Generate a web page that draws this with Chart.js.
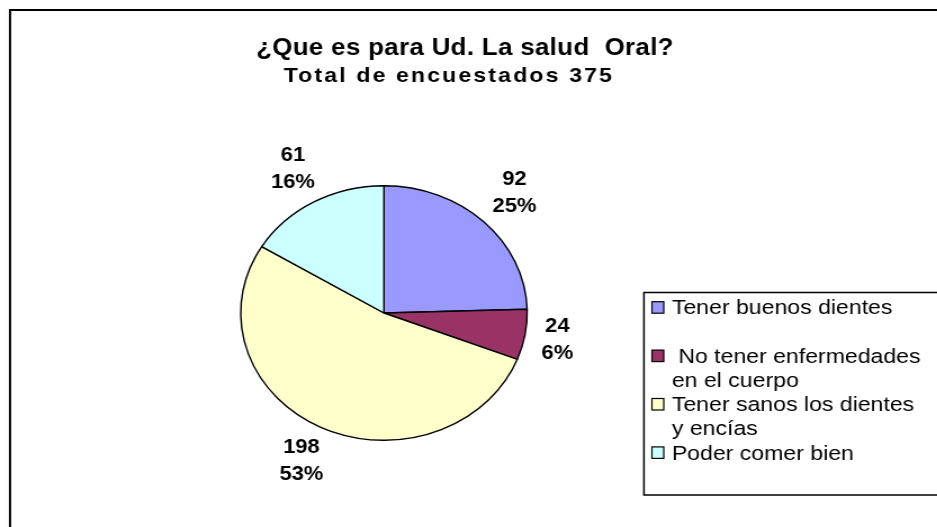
<!DOCTYPE html>
<html>
<head>
<meta charset="utf-8">
<script src="https://cdn.jsdelivr.net/npm/chart.js@4/dist/chart.umd.min.js"></script>
<style>
  html, body { margin: 0; padding: 0; background: #fff; overflow: hidden; }
  #wrap { position: absolute; left: 0; top: 0; width: 833px; height: 527px;
          transform: scaleX(1.125); transform-origin: 0 0; }
  canvas { display: block; }
</style>
</head>
<body>
<div id="wrap"><canvas id="c" width="833" height="527" style="width:833px;height:527px"></canvas></div>
<script>
// ---- data ----
const titleText = "¿Que es para Ud. La salud  Oral?";
const subtitleText = "Total de encuestados 375";
const categories = [
  ["Tener buenos dientes"],
  [" No tener enfermedades", "en el cuerpo"],
  ["Tener sanos los dientes", "y encías"],
  ["Poder comer bien"]
];
const counts = [92, 24, 198, 61];
const sliceColors = ["#9999FF", "#993366", "#FFFFCC", "#CCFFFF"];

const FONT = "'Liberation Sans', Arial, sans-serif";

const decorPlugin = {
  id: 'decor',
  beforeDraw(chart) {
    const ctx = chart.ctx;
    ctx.save();
    ctx.fillStyle = '#fff';
    ctx.fillRect(0, 0, chart.width, chart.height);
    // outer frame (left and top edges visible)
    ctx.strokeStyle = '#000';
    ctx.lineWidth = 2;
    ctx.beginPath();
    ctx.moveTo(8.9, chart.height + 2);
    ctx.lineTo(8.9, 10);
    ctx.lineTo(chart.width + 2, 10);
    ctx.stroke();
    // titles
    ctx.fillStyle = '#000';
    ctx.textAlign = 'center';
    ctx.textBaseline = 'alphabetic';
    ctx.font = "bold 23px " + FONT;
    ctx.letterSpacing = '0.3px';
    ctx.fillText(titleText, 413.3, 55);
    ctx.font = "bold 20.5px " + FONT;
    ctx.letterSpacing = '1.9px';
    ctx.fillText(subtitleText, 399, 82);
    ctx.letterSpacing = '0px';
    ctx.restore();
  },
  afterDatasetsDraw(chart) {
    const ctx = chart.ctx;
    const meta = chart.getDatasetMeta(0);
    const data = chart.data.datasets[0].data;
    const total = data.reduce((a, b) => a + b, 0);
    ctx.save();
    ctx.font = "bold 19.5px " + FONT;
    ctx.fillStyle = '#000';
    ctx.textAlign = 'center';
    ctx.textBaseline = 'middle';
    meta.data.forEach((arc, i) => {
      const p = arc.getProps(['x', 'y', 'startAngle', 'endAngle', 'outerRadius'], true);
      const mid = (p.startAngle + p.endAngle) / 2;
      const lines = [String(data[i]), Math.round(data[i] / total * 100) + '%'];
      const hw = Math.max(...lines.map(t => ctx.measureText(t).width)) / 2;
      const hh = 19;
      const c = Math.cos(mid), s = Math.sin(mid);
      const d = p.outerRadius + 12 + Math.abs(c) * hw + Math.abs(s) * hh;
      const cx = p.x + c * d, cy = p.y + s * d;
      ctx.fillText(lines[0], cx, cy - 13.5);
      ctx.fillText(lines[1], cx, cy + 13.5);
    });
    ctx.restore();
  },
  afterDraw(chart) {
    const ctx = chart.ctx;
    const labels = chart.data.labels;
    const colors = chart.data.datasets[0].backgroundColor;
    ctx.save();
    // legend box
    ctx.strokeStyle = '#000';
    ctx.lineWidth = 1.5;
    ctx.strokeRect(572.4, 292.5, 300, 202.5);
    ctx.font = "20.5px " + FONT;
    ctx.fillStyle = '#000';
    ctx.textAlign = 'left';
    ctx.textBaseline = 'alphabetic';
    const base = 314.3, step = 24.2;
    labels.forEach((lab, i) => {
      const y0 = base + 2 * i * step;
      ctx.fillStyle = colors[i];
      ctx.fillRect(579.5, y0 - 12.6, 10.5, 11.5);
      ctx.strokeStyle = '#000';
      ctx.lineWidth = 1.2;
      ctx.strokeRect(579.5, y0 - 12.6, 10.5, 11.5);
      ctx.fillStyle = '#000';
      const ls = Array.isArray(lab) ? lab : [lab];
      ls.forEach((t, k) => ctx.fillText(t, 597.2, y0 + k * step));
    });
    ctx.restore();
  }
};

new Chart(document.getElementById('c'), {
  type: 'pie',
  data: {
    labels: categories,
    datasets: [{
      data: counts,
      backgroundColor: sliceColors,
      borderColor: '#000',
      borderWidth: 1.4
    }]
  },
  options: {
    responsive: false,
    animation: false,
    devicePixelRatio: 1,
    layout: { padding: { top: 185, bottom: 86, left: 213.3, right: 363.7 } },
    plugins: {
      legend: { display: false },
      title: { display: false },
      tooltip: { enabled: false }
    }
  },
  plugins: [decorPlugin]
});
</script>
</body>
</html>
